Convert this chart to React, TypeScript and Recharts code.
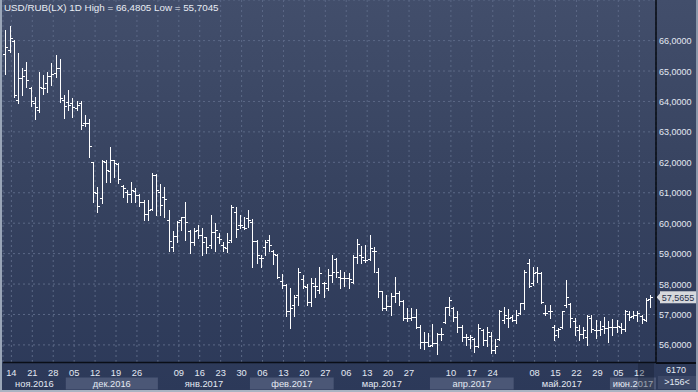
import React from 'react';
import { ComposedChart, Bar, XAxis, YAxis, CartesianGrid, ReferenceLine } from 'recharts';

// Daily OHLC, 10 Nov 2016 .. 15 Jun 2017 (USD/RUB)
const opens = [
  65.56, 65.69, 66.0, 64.05, 64.76, 65.03, 64.43, 63.94, 63.72, 64.45,
  64.6, 64.85, 64.95, 65.09, 64.05, 63.99, 63.95, 63.8, 63.95, 63.3,
  63.3, 62.0, 61.0, 60.82, 62.02, 61.73, 62.06, 61.95, 61.22, 61.04,
  60.96, 61.07, 60.93, 60.71, 60.3, 60.46, 61.58, 61.04, 60.87, 60.11,
  59.21, 59.58, 60.11, 60.21, 59.75, 59.39, 59.78, 59.6, 59.54, 59.28,
  59.72, 59.54, 59.28, 59.18, 59.45, 60.38, 59.94, 59.89, 60.16, 60.05,
  59.4, 58.87, 59.21, 59.45, 59.1, 58.95, 58.1, 57.98, 57.1, 57.3,
  57.64, 58.16, 57.9, 57.42, 57.94, 57.8, 58.03, 57.86, 58.3, 58.81,
  58.24, 58.19, 58.19, 58.08, 58.9, 58.96, 58.79, 58.81, 59.1, 58.41,
  57.77, 57.2, 57.28, 57.6, 57.72, 57.44, 56.9, 56.88, 56.93, 56.6,
  56.11, 56.08, 56.0, 56.06, 56.36, 56.75, 57.24, 57.2, 56.93, 56.6,
  56.27, 56.2, 56.2, 55.95, 56.5, 56.16, 56.3, 55.84, 56.19, 56.82,
  56.88, 56.93, 56.82, 57.06, 57.37, 58.68, 58.03, 58.41, 58.35, 57.06,
  57.1, 56.6, 56.5, 56.6, 57.3, 57.35, 56.8, 56.5, 56.36, 56.27,
  56.9, 56.5, 56.5, 56.62, 56.55, 56.58, 56.6, 56.6, 56.51, 57.0,
  56.95, 56.99, 56.95, 56.82, 57.5,
];
const highs = [
  66.34, 66.4805, 66.02, 65.6, 65.09, 65.3, 64.48, 64.16, 64.98, 64.87,
  64.98, 65.25, 65.52, 65.38, 64.21, 64.37, 64.1, 64.0, 64.0, 63.55,
  63.41, 62.02, 61.2, 62.08, 62.08, 62.51, 62.08, 61.97, 61.26, 61.09,
  61.36, 61.15, 60.96, 60.75, 60.76, 61.64, 61.62, 61.29, 61.2, 60.43,
  59.74, 60.07, 60.21, 60.69, 59.78, 59.83, 59.94, 59.83, 59.56, 60.27,
  60.0, 59.67, 59.39, 59.67, 60.6, 60.54, 60.27, 60.21, 60.43, 60.13,
  59.45, 58.96, 59.45, 59.61, 59.12, 58.99, 58.32, 58.0, 57.88, 57.64,
  58.52, 58.3, 58.0, 58.19, 58.19, 58.57, 58.08, 58.5, 58.96, 58.85,
  58.46, 58.38, 58.35, 58.96, 59.48, 59.25, 59.28, 59.61, 59.23, 58.52,
  57.78, 57.64, 57.72, 58.22, 57.77, 57.48, 57.2, 57.2, 57.17, 56.66,
  56.44, 56.38, 56.69, 56.38, 56.55, 57.24, 57.57, 57.24, 57.1, 56.66,
  56.36, 56.33, 56.22, 56.69, 56.52, 56.58, 56.44, 56.19, 57.15, 57.26,
  57.17, 56.99, 57.15, 57.37, 58.46, 58.81, 58.57, 58.55, 58.41, 57.31,
  57.31, 56.66, 56.55, 57.1, 58.14, 57.37, 56.88, 56.66, 56.58, 56.99,
  56.99, 56.82, 56.77, 56.93, 56.77, 56.84, 56.82, 56.71, 57.15, 57.1,
  57.1, 57.13, 56.99, 57.53, 57.64,
];
const lows = [
  64.9, 65.63, 64.15, 63.96, 64.21, 64.48, 63.85, 63.43, 63.66, 64.26,
  64.32, 64.54, 64.81, 63.99, 63.47, 63.72, 63.5, 63.72, 63.08, 63.19,
  62.19, 60.71, 60.38, 60.65, 61.36, 61.36, 61.53, 61.31, 60.85, 60.71,
  60.71, 60.68, 60.57, 60.11, 60.11, 60.43, 60.27, 60.27, 60.21, 59.07,
  59.07, 59.39, 59.78, 59.45, 59.01, 59.28, 59.5, 58.96, 59.01, 59.18,
  59.07, 59.34, 59.07, 59.04, 59.39, 59.54, 59.83, 59.81, 59.89, 58.55,
  58.68, 58.55, 58.96, 59.07, 58.66, 58.19, 57.86, 56.95, 56.55, 56.95,
  57.31, 57.86, 57.31, 57.29, 57.59, 57.7, 57.59, 57.81, 58.08, 58.24,
  57.86, 57.92, 57.86, 58.05, 58.68, 58.68, 58.74, 58.78, 58.41, 57.59,
  57.15, 57.15, 56.99, 57.42, 57.31, 56.82, 56.77, 56.82, 56.55, 55.89,
  55.86, 55.95, 55.97, 55.7045, 56.16, 56.71, 56.99, 56.79, 56.44, 56.14,
  56.0, 55.91, 55.78, 55.94, 56.0, 55.95, 55.73, 55.72, 56.16, 56.71,
  56.6, 56.77, 56.73, 57.02, 57.17, 57.9, 57.97, 58.08, 57.37, 56.99,
  56.88, 56.16, 56.27, 56.55, 57.26, 56.6, 56.33, 56.16, 56.22, 56.0,
  56.44, 56.22, 56.33, 56.38, 56.08, 56.33, 56.44, 56.38, 56.47, 56.82,
  56.88, 56.77, 56.73, 56.77, 57.26,
];
const closes = [
  65.78, 66.07, 64.2, 64.76, 64.83, 64.7, 64.0, 63.81, 64.48, 64.43,
  64.85, 64.9, 65.1, 64.1, 63.85, 63.9, 63.81, 63.88, 63.22, 63.3,
  62.54, 61.04, 60.57, 62.05, 61.75, 62.08, 61.97, 61.44, 61.15, 60.96,
  61.09, 60.93, 60.71, 60.3, 60.43, 61.58, 61.09, 60.6, 60.78, 59.42,
  59.58, 60.05, 60.21, 60.05, 59.39, 59.74, 59.61, 59.39, 59.21, 59.72,
  59.78, 59.47, 59.21, 59.39, 60.54, 59.81, 59.94, 59.83, 60.11, 59.42,
  58.96, 58.85, 59.39, 59.28, 58.99, 58.22, 57.96, 57.1, 57.2, 57.59,
  58.41, 57.94, 57.42, 58.03, 57.92, 58.35, 58.05, 58.3, 58.41, 58.41,
  58.19, 58.19, 58.16, 58.88, 59.32, 58.88, 58.79, 59.17, 59.1, 57.77,
  57.2, 57.28, 57.6, 57.72, 57.44, 56.88, 56.88, 56.93, 56.6, 56.11,
  56.08, 55.97, 56.06, 56.36, 56.36, 57.24, 57.48, 56.93, 56.6, 56.27,
  56.25, 56.25, 55.95, 56.55, 56.16, 56.44, 55.84, 55.95, 57.13, 56.99,
  56.88, 56.82, 56.99, 57.37, 58.38, 57.92, 58.35, 58.35, 57.42, 57.06,
  57.1, 56.33, 56.51, 57.1, 57.56, 56.88, 56.6, 56.36, 56.49, 56.95,
  56.51, 56.49, 56.51, 56.55, 56.58, 56.58, 56.62, 56.51, 57.1, 56.93,
  56.99, 57.06, 56.84, 57.48, 57.5655,
];

// Weekly (Monday) tick positions in bar slots and their labels
const weekTickIndex = [2, 7, 12, 17, 22, 27, 32, 37, 42, 47, 52, 57, 62, 67, 72, 77, 82, 87, 92, 97, 102, 107, 112, 117, 122, 127, 132, 137, 142, 147, 152];
const weekTickLabels = ['14', '21', '28', '05', '12', '19', '26', '', '09', '16', '23', '30', '06', '13', '20', '27', '06', '13', '20', '27', '', '10', '17', '24', '', '08', '15', '22', '29', '05', '12'];
// Month boundaries (bar slots) and names
const monthStartIndex = [0, 15, 37, 59, 79, 102, 122, 145, 156];
const monthLabels = ['ноя.2016', 'дек.2016', 'янв.2017', 'фев.2017', 'мар.2017', 'апр.2017', 'май.2017', 'июн.2017'];
const priceTicks = [56, 57, 58, 59, 60, 61, 62, 63, 64, 65, 66];
const titleText = 'USD/RUB(LX) 1D High = 66,4805 Low = 55,7045';
const footerTop = '6170';
const footerBottom = '>156<';

const data = opens.map((o, i) => ({
  xi: i + 0.5,
  open: o,
  high: highs[i],
  low: lows[i],
  close: closes[i],
  range: [lows[i], highs[i]],
}));
const lastClose = closes[closes.length - 1];

const FONT = '"Liberation Sans", Arial, sans-serif';
const TXT = '#e3e9f3';
const fmt = (v: number) => v.toFixed(4).replace('.', ',');

const OhlcShape = (props: any) => {
  const { x, y, width, height, payload } = props;
  if (x == null || y == null || !payload) return <g />;
  const top = Math.min(y, y + height);
  const bot = Math.max(y, y + height);
  const span = payload.high - payload.low;
  const py = (v: number) => (span > 0 ? top + ((payload.high - v) / span) * (bot - top) : top);
  const cx = Math.floor(x + width / 2 + 0.9) + 0.5;
  const yo = Math.round(py(payload.open)) + 0.5;
  const yc = Math.round(py(payload.close)) + 0.5;
  return (
    <g>
      <line x1={cx} x2={cx} y1={Math.round(top)} y2={Math.round(bot) + 1} stroke="#ffffff" strokeWidth={1} />
      <line x1={cx - 2.5} x2={cx} y1={yo} y2={yo} stroke="#ffffff" strokeWidth={1} />
      <line x1={cx} x2={cx + 2.5} y1={yc} y2={yc} stroke="#ffffff" strokeWidth={1} />
    </g>
  );
};

const WeekTick = (props: any) => {
  const { x, y, index } = props;
  const label = weekTickLabels[index] ?? '';
  return (
    <text x={x} y={y + 13} textAnchor="middle" fill={TXT} fontSize={9.3} fontFamily={FONT}>
      {label}
    </text>
  );
};

const boundX: number[] = [];
const MonthTick = (props: any) => {
  const { x, y, index } = props;
  boundX[index] = x;
  if (index === 0) return <g />;
  const x0 = boundX[index - 1];
  const k = index - 1;
  const shaded = k % 2 === 1;
  return (
    <g>
      {shaded && <rect x={x0} y={y} width={x - x0} height={12} fill="#4b5776" />}
      <text x={(x0 + x) / 2} y={y + 9} textAnchor="middle" fill={TXT} fontSize={9.3} fontFamily={FONT}>
        {monthLabels[k]}
      </text>
    </g>
  );
};

const PriceTick = (props: any) => {
  const { x, y, payload } = props;
  return (
    <text x={x} y={y + 3.5} textAnchor="start" fill={TXT} fontSize={9} fontFamily={FONT}>
      {fmt(payload.value)}
    </text>
  );
};

const PriceTag = (props: any) => {
  const vb = props.viewBox || {};
  const x = (vb.x ?? 0) + (vb.width ?? 0);
  const y = vb.y ?? 0;
  return (
    <g>
      <polygon points={`${x + 0.5},${y} ${x + 5},${y - 5} ${x + 5},${y + 5}`} fill="#d6d8dc" />
      <rect x={x + 4} y={y - 6} width={36} height={12} fill="#d6d8dc" />
      <text x={x + 22} y={y + 3.5} textAnchor="middle" fill="#26304a" fontSize={9} fontFamily={FONT}>
        {fmt(lastClose)}
      </text>
    </g>
  );
};

export default function App() {
  return (
    <div
      style={{
        position: 'absolute',
        left: 0,
        top: 0,
        width: 698,
        height: 392,
        overflow: 'hidden',
        background: 'linear-gradient(180deg, #424e6b 0%, #36425f 50%, #2c3959 100%)',
        fontFamily: FONT,
      }}
    >
      <ComposedChart width={698} height={392} data={data} margin={{ top: 0, right: 0, bottom: 0, left: 3 }}>
        <CartesianGrid stroke="#5b6886" strokeDasharray="2 3" strokeWidth={1} />
        <XAxis
          dataKey="xi"
          type="number"
          domain={[0, 156]}
          ticks={weekTickIndex}
          interval={0}
          height={15}
          tickSize={0}
          tickMargin={0}
          tickLine={false}
          axisLine={{ stroke: '#0a0e17', strokeWidth: 1.5 }}
          tick={WeekTick}
          allowDataOverflow
        />
        <XAxis
          xAxisId="m"
          dataKey="xi"
          type="number"
          domain={[0, 156]}
          ticks={monthStartIndex}
          interval={0}
          height={14.5}
          tickSize={0}
          tickMargin={0}
          tickLine={false}
          axisLine={false}
          tick={MonthTick}
          allowDataOverflow
        />
        <YAxis
          orientation="right"
          type="number"
          domain={[55.422, 67.334]}
          ticks={priceTicks}
          interval={0}
          width={42}
          tickSize={0}
          tickMargin={3}
          tickLine={false}
          axisLine={{ stroke: '#05080f', strokeWidth: 1.5 }}
          tick={PriceTick}
          allowDataOverflow
        />
        <Bar dataKey="range" shape={OhlcShape} barSize={4} isAnimationActive={false} />
        <ReferenceLine y={lastClose} stroke="none" label={(p: any) => <PriceTag {...p} />} />
      </ComposedChart>

      {/* title */}
      <div style={{ position: 'absolute', left: 4, top: 2, fontSize: 9.8, color: '#e8ecf3', whiteSpace: 'nowrap', lineHeight: '12px' }}>
        {titleText}
      </div>
      {/* frame */}
      <div style={{ position: 'absolute', left: 0, top: 0, width: 2, height: 392, background: '#9aa6b8' }} />
      <div style={{ position: 'absolute', left: 0, top: 390, width: 698, height: 2, background: '#aab3c2' }} />
      <div style={{ position: 'absolute', left: 696, top: 0, width: 2, height: 392, background: '#8c98ab' }} />
      <div style={{ position: 'absolute', left: 656, top: 362, width: 40, height: 1.5, background: '#0a0e17' }} />
      {/* cursor highlight in date strip */}
      <div style={{ position: 'absolute', left: 638, top: 363, width: 16, height: 27, background: 'rgba(20,28,46,0.35)' }} />
      {/* footer right */}
      <div style={{ position: 'absolute', left: 658, top: 376, width: 38, height: 13, background: '#3c4867' }} />
      <div style={{ position: 'absolute', left: 656, top: 365, width: 40, textAlign: 'center', fontSize: 9, color: TXT, lineHeight: '11px' }}>
        {footerTop}
      </div>
      <div style={{ position: 'absolute', left: 658, top: 377, width: 38, textAlign: 'center', fontSize: 9, color: TXT, lineHeight: '11px' }}>
        {footerBottom}
      </div>
    </div>
  );
}
